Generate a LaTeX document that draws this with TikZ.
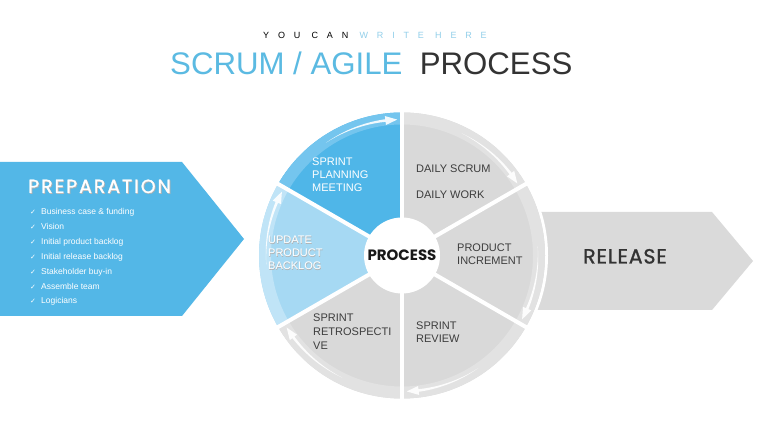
\documentclass[tikz,border=0pt]{standalone}
\usepackage{fontspec}
\setmainfont{Liberation Sans}
\newfontfamily\pop{Poppins}
\newfontfamily\popm[FakeBold=1.2, LetterSpace=4]{Poppins}
\newfontfamily\popw[FakeBold=1.2, LetterSpace=10]{Poppins}
\newfontfamily\symf{DejaVu Sans}
\definecolor{tblue}{HTML}{5BBAE2}
\definecolor{sblue}{HTML}{92CFEA}
\definecolor{dark}{HTML}{333333}
\definecolor{prepc}{HTML}{53B7E7}
\definecolor{pblue}{HTML}{4FB6E8}
\definecolor{pbluerim}{HTML}{74C5EE}
\definecolor{lblue}{HTML}{A6D9F3}
\definecolor{lbluerim}{HTML}{C0E4F7}
\definecolor{gr}{HTML}{D9D9D9}
\definecolor{grrim}{HTML}{E2E2E2}
\definecolor{relc}{HTML}{DADADA}
\definecolor{stxt}{HTML}{3D3D3D}
\tikzset{
  stext/.style={inner sep=0pt, align=left, anchor=north west, font=\fontsize{11}{13}\selectfont, text=stxt},
  wtext/.style={stext, text=white},
  shtext/.style={stext, text=black!30},
  bul/.style={inner sep=0pt, anchor=mid west, font=\fontsize{8.5}{10}\selectfont, text=white},
  chk/.style={inner sep=0pt, anchor=mid west, font=\symf\fontsize{7}{8}\selectfont, text=white},
  arrowc/.style={white, opacity=0.9}
}
\newcommand\rimarrow[1]{%
  \pgfmathsetmacro\rbase{#1+5}%
  \pgfmathsetmacro\rtail{#1+32}%
  \fill[arrowc] plot[domain=\rtail:\rbase, variable=\x, samples=24]
    ({(136+1.3*(\rtail-\x)/(\rtail-\rbase))*cos(\x)},{(136+1.3*(\rtail-\x)/(\rtail-\rbase))*sin(\x)})
    -- ({140.5*cos(\rbase)},{140.5*sin(\rbase)})
    -- ({136*cos(#1)},{136*sin(#1)})
    -- ({131.5*cos(\rbase)},{131.5*sin(\rbase)})
    -- plot[domain=\rbase:\rtail, variable=\x, samples=24]
    ({(136-1.3*(\rtail-\x)/(\rtail-\rbase))*cos(\x)},{(136-1.3*(\rtail-\x)/(\rtail-\rbase))*sin(\x)})
    -- cycle;}
\begin{document}
\begin{tikzpicture}[x=1pt,y=1pt]
\useasboundingbox (0,0) rectangle (760,428);
\fill[white] (0,0) rectangle (760,428);

% titles
\node[anchor=base west, inner sep=0pt, font=\fontsize{9}{9}\selectfont\addfontfeature{LetterSpace=98}] (sub) at (263,389.5)
  {\textcolor{black}{YOU CAN} \textcolor{sblue}{WRITE HERE}};
\node[anchor=base west, inner sep=0pt, font=\fontsize{31.2}{31}\selectfont] (title) at (170,353)
  {\textcolor{tblue}{SCRUM / AGILE}\ \ \textcolor{dark}{PROCESS}};

% preparation arrow
\fill[prepc] (0,266) -- (182,266) -- (244,189) -- (182,112) -- (0,112) -- cycle;
\node[anchor=base west, inner sep=0pt, font=\popw\fontsize{19}{19}\selectfont, text=black!30] (prepsh) at (28.8,234.2) {PREPARATION};
\node[anchor=base west, inner sep=0pt, font=\popw\fontsize{19}{19}\selectfont, text=white] (prep) at (28,235) {PREPARATION};
\foreach \yy/\tx [count=\i] in {216.3/Business case \& funding, 201.3/Vision, 186.6/Initial product backlog, 171.3/Initial release backlog, 156.3/Stakeholder buy-in, 141.3/Assemble team, 127/Logicians}{
  \node[chk] (c\i) at (30,\yy) {✓};
  \node[bul] (b\i) at (41,\yy) {\tx};
}

% release arrow
\fill[relc] (500,216) -- (712,216) -- (753,167) -- (712,118) -- (500,118) -- cycle;
\node[anchor=base west, inner sep=0pt, font=\popm\fontsize{20.5}{20}\selectfont, text=dark] (rel) at (583,164.5) {RELEASE};

% wheel
\begin{scope}[shift={(402,172.5)}]
  \fill[white] (0,0) circle[radius=146];
  \foreach \a/\b/\mc/\rc in {90/150/pblue/pbluerim, 150/210/lblue/lbluerim, 210/270/gr/grrim, 270/330/gr/grrim, -30/30/gr/grrim, 30/90/gr/grrim}{
    \fill[\mc] (0,0) -- (\a:143) arc[start angle=\a, end angle=\b, radius=143] -- cycle;
    \fill[\rc] (\a:143) arc[start angle=\a, end angle=\b, radius=143] -- (\b:131) arc[start angle=\b, end angle=\a, radius=131] -- cycle;
  }
  \foreach \h in {92,32,-28,-88,-148,152}{\rimarrow{\h}}
  \foreach \a in {30,90,...,330}{\draw[white, line width=4pt] (0,0) -- (\a:147);}
  \node[circle, fill=white, minimum size=76pt, inner sep=0pt, font=\pop\bfseries\fontsize{15}{15}\selectfont, text=black!90] (proc) at (0,0) {PROCESS};
\end{scope}

% sector texts
\node[wtext] (plan) at (312,270) {SPRINT\\PLANNING\\MEETING};
\node[stext] (ds) at (416,263) {DAILY SCRUM};
\node[stext] (dw) at (416,237) {DAILY WORK};
\node[shtext] (updsh) at (268.5,191.5) {UPDATE\\PRODUCT\\BACKLOG};
\node[wtext] (upd) at (268,192) {UPDATE\\PRODUCT\\BACKLOG};
\node[stext] (inc) at (457,184) {PRODUCT\\INCREMENT};
\node[stext, font=\fontsize{11}{14}\selectfont] (retro) at (313,114) {SPRINT\\RETROSPECTI\\VE};
\node[stext] (rev) at (416,106) {SPRINT\\REVIEW};
\end{tikzpicture}
\end{document}
